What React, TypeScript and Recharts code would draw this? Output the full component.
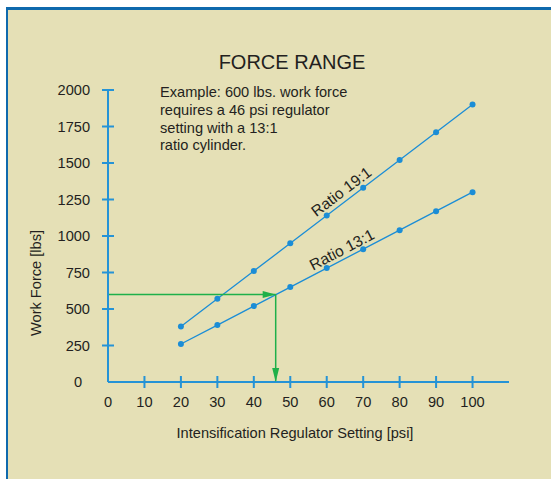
import { LineChart, Line, XAxis, YAxis, ReferenceLine, ReferenceDot } from "recharts";

const psi = [20, 30, 40, 50, 60, 70, 80, 90, 100];
const ratio19 = [380, 570, 760, 950, 1140, 1330, 1520, 1710, 1900];
const ratio13 = [260, 390, 520, 650, 780, 910, 1040, 1170, 1300];
const xTicks = [0, 10, 20, 30, 40, 50, 60, 70, 80, 90, 100];
const yTicks = [0, 250, 500, 750, 1000, 1250, 1500, 1750, 2000];
const examplePsi = 46;
const exampleForce = 600;
const noteLines = [
  "Example: 600 lbs. work force",
  "requires a 46 psi regulator",
  "setting with a 13:1",
  "ratio cylinder.",
];

const data = psi.map((p, i) => ({ psi: p, r19: ratio19[i], r13: ratio13[i] }));

const FONT = '"Liberation Sans", Arial, Helvetica, sans-serif';
const BLUE = "#1b8dd6";
const AXIS = "#2593d6";
const GREEN = "#1fb04a";
const TEXT = "#231f20";
const FS = 14.6;

function YTick(props: any) {
  const { x, y, payload } = props;
  const zero = payload.value === 0;
  return (
    <g>
      {!zero && <line x1={x - 6} x2={x + 6} y1={y} y2={y} stroke={AXIS} strokeWidth={2} />}
      <text x={zero ? x - 26 : x - 18} y={y + 5} textAnchor="end" fontSize={FS} fill={TEXT} fontFamily={FONT}>
        {payload.value}
      </text>
    </g>
  );
}

function XTick(props: any) {
  const { x, y, payload } = props;
  const zero = payload.value === 0;
  return (
    <g>
      {!zero && <line x1={x} x2={x} y1={y - 6} y2={y + 6} stroke={AXIS} strokeWidth={2} />}
      <text x={x} y={y + 25} textAnchor="middle" fontSize={FS} fill={TEXT} fontFamily={FONT}>
        {payload.value}
      </text>
    </g>
  );
}

function ratioLabel(text: string, angle: number, along: number, up: number) {
  return (props: any) => {
    const { x, y, index } = props;
    if (index !== 4) return null;
    return (
      <text
        x={x + along}
        y={y - up}
        textAnchor="middle"
        fontSize={15.5}
        fill={TEXT}
        fontFamily={FONT}
        transform={`rotate(${angle}, ${x}, ${y})`}
      >
        {text}
      </text>
    );
  };
}

export default function App() {
  return (
    <div style={{ position: "absolute", left: 0, top: 0, width: 551, height: 479, overflow: "hidden", background: "#fff" }}>
      <div
        style={{
          position: "absolute",
          left: 6,
          top: 7,
          width: 560,
          height: 490,
          background: "#e5e0b6",
          borderTop: "3px solid #0f69ad",
          borderLeft: "2px solid #0f69ad",
        }}
      />
      <div style={{ position: "absolute", left: 0, top: 0 }}>
        <LineChart width={551} height={479} data={data} margin={{ top: 90, right: 42, bottom: 67, left: 48 }}>
          <XAxis
            dataKey="psi"
            type="number"
            domain={[0, 110]}
            ticks={xTicks}
            height={30}
            tickSize={0}
            tickMargin={0}
            tickLine={false}
            axisLine={{ stroke: AXIS, strokeWidth: 2 }}
            tick={<XTick />}
          />
          <YAxis
            type="number"
            domain={[0, 2000]}
            ticks={yTicks}
            width={60}
            tickSize={0}
            tickMargin={0}
            tickLine={false}
            axisLine={{ stroke: AXIS, strokeWidth: 2 }}
            tick={<YTick />}
          />
          <Line
            dataKey="r19"
            stroke={BLUE}
            strokeWidth={1.3}
            dot={{ r: 3, fill: BLUE, stroke: BLUE, strokeWidth: 0 }}
            isAnimationActive={false}
            label={ratioLabel("Ratio 19:1", -37, 26, 5)}
          />
          <Line
            dataKey="r13"
            stroke={BLUE}
            strokeWidth={1.3}
            dot={{ r: 3, fill: BLUE, stroke: BLUE, strokeWidth: 0 }}
            isAnimationActive={false}
            label={ratioLabel("Ratio 13:1", -27.5, 22, 4)}
          />
          <ReferenceLine
            segment={[
              { x: 0, y: exampleForce },
              { x: examplePsi, y: exampleForce },
            ]}
            stroke={GREEN}
            strokeWidth={1.5}
          />
          <ReferenceLine
            segment={[
              { x: examplePsi, y: exampleForce },
              { x: examplePsi, y: 0 },
            ]}
            stroke={GREEN}
            strokeWidth={1.5}
          />
          <ReferenceDot
            x={examplePsi}
            y={exampleForce}
            shape={(p: any) => (
              <path d={`M${p.cx},${p.cy} L${p.cx - 13},${p.cy - 3.5} L${p.cx - 13},${p.cy + 3.5} Z`} fill={GREEN} />
            )}
          />
          <ReferenceDot
            x={examplePsi}
            y={0}
            shape={(p: any) => (
              <path d={`M${p.cx},${p.cy} L${p.cx - 3.5},${p.cy - 14} L${p.cx + 3.5},${p.cy - 14} Z`} fill={GREEN} />
            )}
          />
          <text x={292} y={69} textAnchor="middle" fontSize={20} fill={TEXT} fontFamily={FONT}>
            FORCE RANGE
          </text>
          {noteLines.map((t, i) => (
            <text key={i} x={160} y={97 + i * 17.8} fontSize={FS} fill={TEXT} fontFamily={FONT}>
              {t}
            </text>
          ))}
          <text x={295} y={438} textAnchor="middle" fontSize={FS} fill={TEXT} fontFamily={FONT}>
            Intensification Regulator Setting [psi]
          </text>
          <text
            x={36}
            y={283}
            textAnchor="middle"
            dominantBaseline="central"
            fontSize={FS}
            fill={TEXT}
            fontFamily={FONT}
            transform="rotate(-90, 36, 283)"
          >
            Work Force [lbs]
          </text>
        </LineChart>
      </div>
    </div>
  );
}
